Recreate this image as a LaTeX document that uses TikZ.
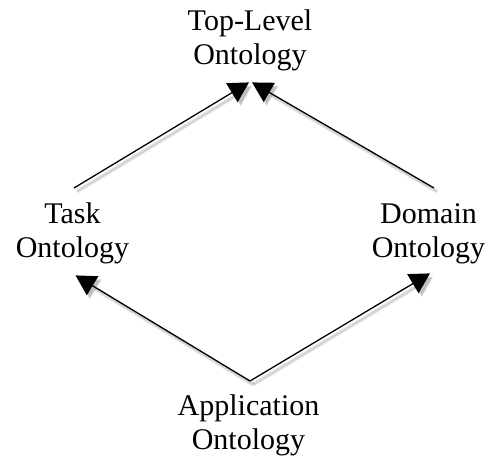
\documentclass[tikz,border=0pt]{standalone}
\usepackage{fontspec}
\setmainfont{Liberation Serif}
\usetikzlibrary{arrows.meta}
\begin{document}
\begin{tikzpicture}[x=1pt,y=1pt,
  term/.style={align=center, inner sep=0pt, font=\fontsize{30}{34}\selectfont},
  link/.style={line width=1.3pt, -{Triangle[length=20pt,width=22pt]}},
  haze/.style={line width=#1, draw=black, opacity=0.09,
    -{Triangle[length=20pt,width=22pt]},
    transform canvas={shift={(3pt,-3.5pt)}}}]
  \useasboundingbox (0,0) rectangle (489,-459);

  % ontology levels
  \node[term] (top)  at (250,-40.2)  {\strut Top-Level\\\strut Ontology};
  \node[term] (task) at (72.5,-233.2) {\strut Task\\\strut Ontology};
  \node[term] (dom)  at (428.5,-233.2) {\strut Domain\\\strut Ontology};
  \node[term] (app)  at (248.5,-425.2) {\strut Application\\\strut Ontology};

  % connector end points around the labels
  \coordinate (taskUp)  at ([xshift=1.5pt,yshift=11pt]task.north);
  \coordinate (domUp)   at ([xshift=5.5pt,yshift=11pt]dom.north);
  \coordinate (topL)    at ([xshift=-1pt,yshift=-8pt]top.south);
  \coordinate (topR)    at ([xshift=2pt,yshift=-8pt]top.south);
  \coordinate (apex)    at ([xshift=1.5pt,yshift=10pt]app.north);
  \coordinate (taskTip) at ([xshift=3pt,yshift=-8pt]task.south);
  \coordinate (domTip)  at ([xshift=1.5pt,yshift=-6pt]dom.south);

  % soft shadows
  \foreach \a/\b in {taskUp/topL, domUp/topR, apex/taskTip, apex/domTip} {
    \draw[haze=4pt] (\a) -- (\b);
    \draw[haze=2pt] (\a) -- (\b);
  }
  % arrows
  \foreach \a/\b in {taskUp/topL, domUp/topR, apex/taskTip, apex/domTip} {
    \draw[link] (\a) -- (\b);
  }
\end{tikzpicture}
\end{document}
